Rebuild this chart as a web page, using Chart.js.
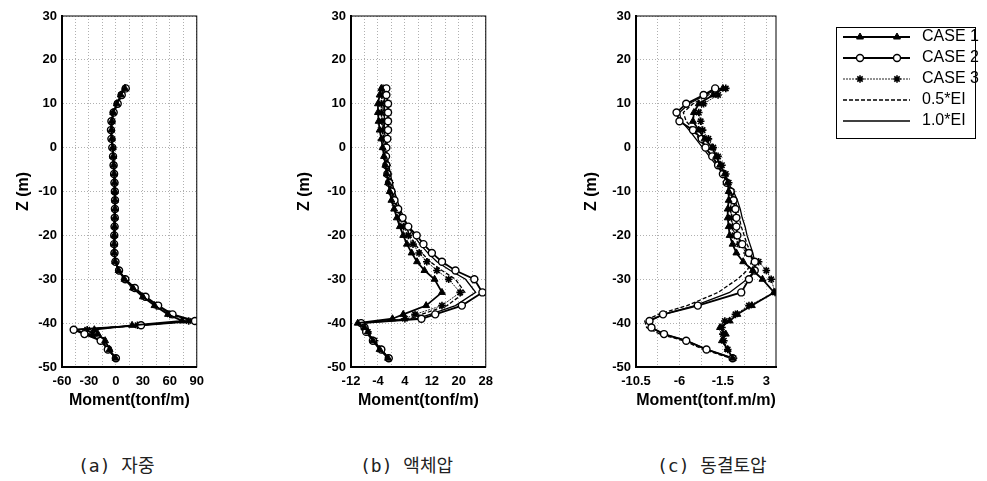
<!DOCTYPE html>
<html>
<head>
<meta charset="utf-8">
<script src="https://cdn.jsdelivr.net/npm/chart.js@4.4.0/dist/chart.umd.min.js"></script>
<style>
  body { margin: 0; background: #fff; width: 987px; height: 481px; position: relative; overflow: hidden; }
  canvas { position: absolute; top: 0; }
  .cap { position: absolute; top: 451px; line-height: 22px; white-space: nowrap; font: 18px "DejaVu Sans Mono", "Noto Sans CJK KR", monospace; color: #222; }
  .cap span { font-family: "Noto Sans CJK KR", sans-serif; }
</style>
</head>
<body>
<canvas id="selfChart" width="197" height="410" style="left:14px"></canvas>
<canvas id="liquidChart" width="205" height="410" style="left:295px"></canvas>
<canvas id="frostChart" width="400" height="410" style="left:582px"></canvas>
<div class="cap" style="left:78px">(a) <span>자중</span></div>
<div class="cap" style="left:360px">(b) <span>액체압</span></div>
<div class="cap" style="left:657px">(c) <span>동결토압</span></div>
<script>
// series names
const seriesNames = ["CASE 1", "CASE 2", "CASE 3", "0.5*EI", "1.0*EI"];

// common depth axis
const zTicks = [30, 20, 10, 0, -10, -20, -30, -40, -50];

// (a) self weight
const zSelf = [13.5, 12, 10, 8, 6, 4, 2, 0, -2, -4, -6, -8, -10, -12, -14, -16, -18, -20, -22, -24, -26, -28, -30, -32, -34, -36, -38, -39.5, -40.5, -41.5, -42.5, -44, -46, -48];
const selfCase1 = [10, 5.5, 1, -3, -4.5, -5, -4.5, -3.5, -3, -2.5, -2, -1.5, -1.2, -1, -1, -1.2, -1.5, -1.8, -2, -1.8, -0.8, 3, 9.5, 19, 30, 43, 58, 74, 18, -24, -20, -12, -7, -0.5];
const selfCase2 = [11, 6.5, 2, -2.5, -5, -5.5, -5, -4, -3.2, -2.6, -2, -1.6, -1.2, -1, -1.1, -1.3, -1.5, -1.8, -2, -1.6, -0.5, 3.5, 10.5, 21, 33, 47, 63, 88, 28, -47, -35, -17, -9, 0];
const selfCase3 = [10.5, 6, 1.5, -2.8, -4.7, -5.2, -4.7, -3.7, -3.1, -2.5, -2, -1.5, -1.2, -1, -1, -1.2, -1.5, -1.8, -2, -1.7, -0.6, 3.2, 10, 20, 31.5, 45, 60, 81, 24, -32, -26, -14, -8, -0.3];
const selfEi05 = [10.2, 5.8, 1.2, -2.9, -4.8, -5.3, -4.8, -3.8, -3.1, -2.6, -2, -1.5, -1.2, -1, -1, -1.2, -1.5, -1.8, -2, -1.7, -0.6, 3.3, 10.2, 20.5, 32, 46, 61, 84, 26, -40, -30, -15, -8.5, -0.2];
const selfEi10 = [10.8, 6.3, 1.8, -2.6, -4.9, -5.4, -4.9, -3.9, -3.2, -2.6, -2, -1.6, -1.2, -1, -1.1, -1.3, -1.5, -1.8, -2, -1.6, -0.5, 3.4, 10.4, 20.8, 32.5, 46.5, 62, 86, 27, -44, -33, -16, -9, 0];
const selfTicks = [-60, -30, 0, 30, 60, 90];

// (b) liquid pressure
const zLiquid = [13.5, 12, 10, 8, 6, 4, 2, 0, -2, -4, -6, -8, -10, -12, -14, -16, -18, -20, -22, -24, -26, -28, -30, -33, -36, -38, -39, -40, -41, -42, -44, -46, -48];
const liquidCase1 = [-3, -3.5, -4, -4, -3.8, -3.5, -3, -2.6, -2.2, -1.8, -1.4, -1, -0.5, 0, 0.8, 1.6, 2.5, 3.5, 4.6, 6, 7.6, 9.8, 12.8, 15, 10.3, 3.5, 0.3, -10, -8, -7, -5.5, -3.5, -1];
const liquidCase2 = [-1.5, -1.5, -1, -1, -1, -1, -1.2, -1.5, -1.6, -1.5, -1.2, -0.7, 0, 0.9, 2, 3.3, 5, 7.5, 9.5, 12, 15, 19, 24.6, 27, 20.9, 13, 8.9, -9, -8, -7.5, -5.5, -3, -0.8];
const liquidCase3 = [-2.5, -2.8, -3, -3, -2.8, -2.6, -2.4, -2.1, -1.7, -1.3, -0.9, -0.4, 0.2, 0.8, 1.6, 2.5, 3.6, 5, 6.4, 8.2, 10.5, 13.5, 17, 20.4, 15, 7, 4, -9, -8, -7, -5, -3, -0.8];
const liquidEi05 = [-2, -2.3, -2.5, -2.5, -2.4, -2.2, -2, -1.8, -1.4, -1, -0.6, -0.1, 0.5, 1.2, 2, 3, 4.2, 5.5, 7, 9, 11.5, 15, 19, 21.8, 16.5, 9, 5.5, -9, -8, -7.5, -5.5, -3.2, -0.8];
const liquidEi10 = [-1.8, -2, -2.2, -2.2, -2.1, -2, -1.8, -1.6, -1.2, -0.8, -0.3, 0.2, 0.9, 1.7, 2.6, 3.7, 5, 6.6, 8.5, 10.8, 13.5, 17.5, 22, 25, 19, 11.5, 7.5, -9, -8, -7.5, -5.5, -3.2, -0.8];
const liquidTicks = [-12, -4, 4, 12, 20, 28];

// (c) frost heave pressure
const zFrost = [13.5, 12, 10, 8, 6, 4, 2, 0, -2, -4, -6, -8, -10, -12, -14, -16, -18, -20, -22, -24, -26, -28, -30, -33, -36, -38, -39.5, -41, -42.5, -44, -46, -48];
const frostCase1 = [-1.5, -2.5, -4, -4.5, -4.6, -4, -3.4, -2.6, -2.2, -1.8, -1.3, -1, -0.9, -0.9, -1, -1, -0.9, -0.8, -0.5, -0.1, 0.6, 1.6, 2.6, 3.8, 1.5, 0, -0.8, -1.8, -1.2, -1.6, -1, -0.5];
const frostCase2 = [-2.3, -3.5, -5.3, -6.3, -6, -4.6, -3.7, -3.3, -2.6, -2, -1.5, -1.1, -0.7, -0.4, -0.2, -0.1, -0.1, 0, 0.5, 1.2, 1.8, 1.8, 1.2, 0.4, -4.1, -7.7, -9.1, -8.9, -7.6, -5.3, -3.2, -0.5];
const frostCase3 = [-1.2, -2, -3.5, -4, -3.8, -3.6, -3, -2.5, -2, -1.6, -1.2, -0.9, -0.6, -0.6, -0.7, -0.6, -0.5, -0.3, 0.2, 1, 2.2, 3, 3.5, 3.9, 1.2, -0.2, -1.3, -1.6, -1.5, -1.4, -1, -0.4];
const frostEi05 = [-1.8, -3, -4.6, -5.6, -5.3, -4.5, -4, -3.3, -2.7, -2, -1.5, -1, -0.5, -0.2, 0, 0.2, 0.4, 0.7, 1, 1.4, 1.5, 1, 0, -2, -5.2, -8.2, -9.6, -9.4, -8, -5.6, -3.5, -0.7];
const frostEi10 = [-2, -3.3, -5, -6, -5.8, -5, -4.3, -3.6, -2.9, -2.2, -1.5, -1, -0.4, 0, 0.3, 0.5, 0.8, 1, 1.3, 1.6, 1.8, 1.8, 1, -0.8, -4.4, -7.6, -9.2, -9, -7.6, -5.3, -3.2, -0.5];
const frostTicks = [-10.5, -6, -1.5, 3];

Chart.defaults.font.family = '"Liberation Sans", Arial, sans-serif';
Chart.defaults.color = '#000';

const styles = [
  { borderColor: '#000', borderWidth: 1.8, pointStyle: 'triangle', pointRadius: 4, pointBackgroundColor: '#000', pointBorderColor: '#000', pointBorderWidth: 1 },
  { borderColor: '#000', borderWidth: 1.8, pointStyle: 'circle', pointRadius: 3.5, pointBackgroundColor: '#fff', pointBorderColor: '#000', pointBorderWidth: 1.4 },
  { borderColor: '#222', borderWidth: 1, borderDash: [2, 1], pointStyle: 'star', pointRadius: 3.8, pointBackgroundColor: '#000', pointBorderColor: '#000', pointBorderWidth: 1.6 },
  { borderColor: '#000', borderWidth: 1.3, borderDash: [4, 2], pointRadius: 0 },
  { borderColor: '#000', borderWidth: 1.3, pointRadius: 0 }
];

const makeSets = (z, lists) => lists.map((vals, i) => Object.assign({
  label: seriesNames[i],
  data: vals.map((m, k) => ({ x: m, y: z[k] })),
  showLine: true,
  tension: 0
}, styles[i]));

// add a dotted minor grid line halfway between labelled ticks
const withMinor = (majors) => {
  const out = [];
  majors.forEach((v, i) => {
    out.push(v);
    if (i < majors.length - 1) out.push((v + majors[i + 1]) / 2);
  });
  return out;
};

// box round the plot area
const plotFrame = {
  id: 'plotFrame',
  afterDatasetsDraw(chart) {
    const { ctx, chartArea: a } = chart;
    ctx.save();
    ctx.strokeStyle = '#000';
    ctx.lineWidth = 1;
    ctx.strokeRect(a.left, a.top, a.right - a.left, a.bottom - a.top);
    ctx.restore();
  }
};

// legend with line + marker samples, drawn on the third canvas
const legendBox = {
  id: 'legendBox',
  afterDraw(chart) {
    const ctx = chart.ctx;
    const left = 254, top = 27, w = 139, h = 111;
    ctx.save();
    ctx.strokeStyle = '#000';
    ctx.lineWidth = 1;
    ctx.strokeRect(left + 0.5, top + 0.5, w, h);
    chart.data.datasets.forEach((ds, i) => {
      const y = top + 10 + i * 21;
      ctx.save();
      ctx.strokeStyle = ds.borderColor;
      ctx.lineWidth = ds.borderWidth;
      ctx.setLineDash(ds.borderDash || []);
      ctx.beginPath();
      ctx.moveTo(left + 7, y);
      ctx.lineTo(left + 74, y);
      ctx.stroke();
      ctx.setLineDash([]);
      if (ds.pointRadius > 0) {
        ctx.fillStyle = ds.pointBackgroundColor;
        ctx.strokeStyle = ds.pointBorderColor;
        ctx.lineWidth = ds.pointBorderWidth;
        [left + 24, left + 61].forEach(px => Chart.helpers.drawPoint(ctx, {
          pointStyle: ds.pointStyle, radius: ds.pointRadius, borderWidth: ds.pointBorderWidth, rotation: 0
        }, px, y));
      }
      ctx.restore();
      ctx.fillStyle = '#000';
      ctx.font = '16px "Liberation Sans", Arial, sans-serif';
      ctx.textBaseline = 'middle';
      ctx.textAlign = 'left';
      ctx.fillText(ds.label, left + 86, y);
    });
    ctx.restore();
  }
};

const makeChart = (id, sets, xMin, xMax, xMajors, xTitle, yWidth, padRight, extraPlugins) => {
  return new Chart(document.getElementById(id), {
    type: 'scatter',
    data: { datasets: sets },
    options: {
      responsive: false,
      animation: false,
      layout: { padding: { top: 16, right: padRight, left: 0, bottom: 0 } },
      plugins: { legend: { display: false }, tooltip: { enabled: false } },
      scales: {
        x: {
          type: 'linear', min: xMin, max: xMax,
          afterBuildTicks: s => { s.ticks = withMinor(xMajors).map(v => ({ value: v })); },
          afterFit: s => { s.height = 43; },
          ticks: {
            autoSkip: false, maxRotation: 0, padding: 7,
            font: { size: 13, weight: 'bold' },
            callback: v => xMajors.includes(v) ? String(v) : ''
          },
          grid: { color: '#b0b0b0', lineWidth: 1, drawTicks: false },
          border: { display: true, color: '#000', width: 2, dash: [1, 2] },
          title: { display: true, text: xTitle, font: { size: 16, weight: 'bold' }, padding: { top: 0, bottom: 0 } }
        },
        y: {
          type: 'linear', min: -50, max: 30,
          afterBuildTicks: s => { s.ticks = zTicks.map(v => ({ value: v })); },
          afterFit: s => { s.width = yWidth; },
          ticks: { autoSkip: false, padding: 5, font: { size: 13, weight: 'bold' } },
          grid: { color: '#b0b0b0', lineWidth: 1, drawTicks: false },
          border: { display: true, color: '#000', width: 2, dash: [1, 2] },
          title: { display: true, text: 'Z (m)', font: { size: 16, weight: 'bold' }, padding: { top: 0, bottom: 0 } }
        }
      }
    },
    plugins: [plotFrame].concat(extraPlugins || [])
  });
};

makeChart('selfChart',
  makeSets(zSelf, [selfCase1, selfCase2, selfCase3, selfEi05, selfEi10]),
  -60, 90, selfTicks, 'Moment(tonf/m)', 48, 8);

makeChart('liquidChart',
  makeSets(zLiquid, [liquidCase1, liquidCase2, liquidCase3, liquidEi05, liquidEi10]),
  -12, 28, liquidTicks, 'Moment(tonf/m)', 56, 10);

makeChart('frostChart',
  makeSets(zFrost, [frostCase1, frostCase2, frostCase3, frostEi05, frostEi10]),
  -10.5, 4, frostTicks, 'Moment(tonf.m/m)', 54, 206, [legendBox]);
</script>
</body>
</html>
